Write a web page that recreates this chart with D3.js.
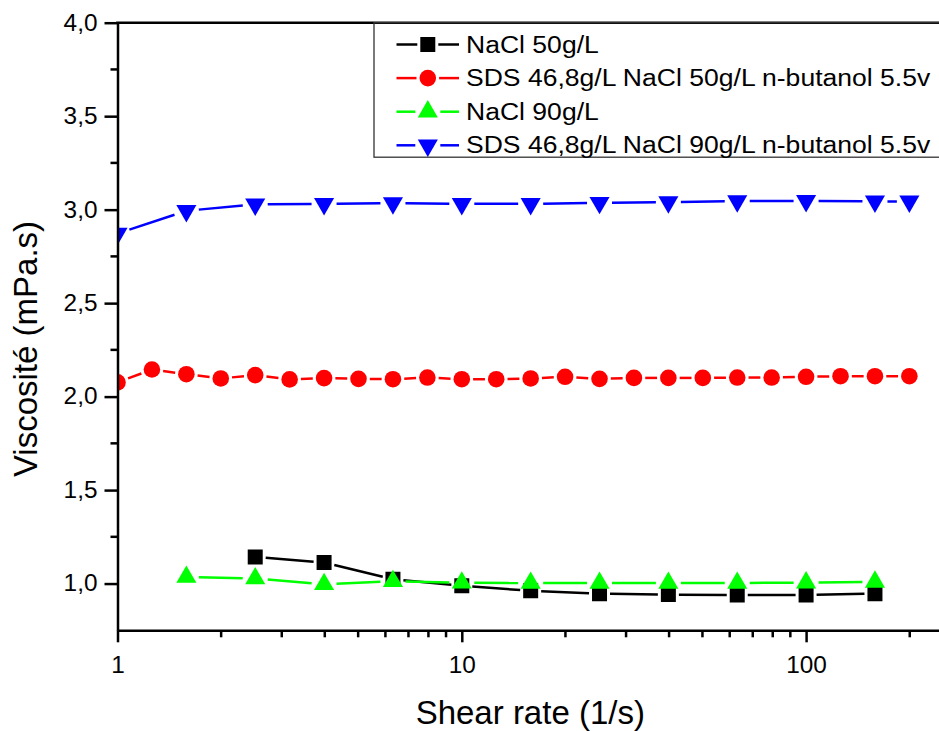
<!DOCTYPE html>
<html>
<head>
<meta charset="utf-8">
<script src="https://cdn.jsdelivr.net/npm/d3@7"></script>
<style>
  html, body { margin: 0; padding: 0; background: #fff; }
  svg { display: block; font-family: "Liberation Sans", Arial, sans-serif; }
</style>
</head>
<body>
<svg id="chart" width="939" height="731"></svg>
<script>
// ---------- data ----------
const seriesNames = [
  "NaCl 50g/L",
  "SDS 46,8g/L NaCl 50g/L n-butanol 5.5v",
  "NaCl 90g/L",
  "SDS 46,8g/L NaCl 90g/L n-butanol 5.5v"
];
const seriesColors = ["#000000", "#ff0000", "#00ff00", "#0000ff"];
const seriesSymbols = ["square", "circle", "triangleUp", "triangleDown"];

const blackX = [2.512, 3.981, 6.310, 10, 15.85, 25.12, 39.81, 63.10, 100, 158.5];
const blackY = [1.142, 1.112, 1.023, 0.988, 0.961, 0.946, 0.941, 0.939, 0.939, 0.946];

const redX = [1, 1.259, 1.585, 1.995, 2.512, 3.162, 3.981, 5.012, 6.310, 7.943, 10, 12.59,
              15.85, 19.95, 25.12, 31.62, 39.81, 50.12, 63.10, 79.43, 100, 125.9, 158.5, 199.5];
const redY = [2.076, 2.145, 2.120, 2.097, 2.115, 2.092, 2.099, 2.095, 2.093, 2.102, 2.093, 2.093,
              2.097, 2.106, 2.095, 2.100, 2.100, 2.100, 2.102, 2.102, 2.106, 2.109, 2.109, 2.109];

const greenX = [1.585, 2.512, 3.981, 6.310, 10, 15.85, 25.12, 39.81, 63.10, 100, 158.5];
const greenY = [1.035, 1.027, 0.996, 1.012, 1.004, 1.003, 1.003, 1.003, 1.003, 1.005, 1.009];

const blueX = [1, 1.585, 2.512, 3.981, 6.310, 10, 15.85, 25.12, 39.81, 63.10, 100, 158.5, 199.5];
const blueY = [2.872, 2.994, 3.028, 3.031, 3.035, 3.031, 3.031, 3.037, 3.040, 3.046, 3.047, 3.044, 3.044];

const xMajorTicks = [1, 10, 100];
const xMinorTicks = [2, 3, 4, 5, 6, 7, 8, 9, 20, 30, 40, 50, 60, 70, 80, 90, 200];
const yMajorTicks = [1.0, 1.5, 2.0, 2.5, 3.0, 3.5, 4.0];
const yMinorTicks = [1.25, 1.75, 2.25, 2.75, 3.25, 3.75];
const xDomain = [1, 250];
const yDomain = [0.75, 4.0];
const xTitle = "Shear rate (1/s)";
const yTitle = "Viscosité (mPa.s)";

const series = [
  { x: blackX, y: blackY },
  { x: redX, y: redY },
  { x: greenX, y: greenY },
  { x: blueX, y: blueY }
].map((s, i) => ({
  name: seriesNames[i], color: seriesColors[i], symbol: seriesSymbols[i],
  points: s.x.map((v, j) => ({ x: v, y: s.y[j] }))
}));

// ---------- layout ----------
const svg = d3.select("#chart");
const pLeft = 117.5, pRight = 943.1, pTop = 22.7, pBottom = 630.3;
const x = d3.scaleLog().domain(xDomain).range([pLeft, pRight]);
const y = d3.scaleLinear().domain(yDomain).range([pBottom, pTop]);
const AXW = 2.5;

// symbols
const symDefs = {
  square: { type: d3.symbolSquare, size: 225, rot: 0, half: 7.5 },
  circle: { type: d3.symbolCircle, size: 216, rot: 0, half: 8.3 },
  triangleUp: { type: d3.symbolTriangle, size: 175, rot: 0, half: 9.5 },
  triangleDown: { type: d3.symbolTriangle, size: 175, rot: 180, half: 9.5 }
};

svg.append("defs").append("clipPath").attr("id", "plotclip")
  .append("rect").attr("x", pLeft).attr("y", pTop).attr("width", pRight - pLeft).attr("height", pBottom - pTop);

const plot = svg.append("g").attr("clip-path", "url(#plotclip)");

function trimmedSegments(pts, gap) {
  const segs = [];
  for (let i = 0; i < pts.length - 1; i++) {
    const x1 = x(pts[i].x), y1 = y(pts[i].y), x2 = x(pts[i + 1].x), y2 = y(pts[i + 1].y);
    const dx = x2 - x1, dy = y2 - y1, len = Math.hypot(dx, dy);
    if (len <= 2 * gap) continue;
    const ux = dx / len, uy = dy / len;
    segs.push([x1 + ux * gap, y1 + uy * gap, x2 - ux * gap, y2 - uy * gap]);
  }
  return segs;
}

series.forEach(s => {
  const def = symDefs[s.symbol];
  const g = plot.append("g");
  g.selectAll("line").data(trimmedSegments(s.points, def.half + 3)).join("line")
    .attr("x1", d => d[0]).attr("y1", d => d[1]).attr("x2", d => d[2]).attr("y2", d => d[3])
    .attr("stroke", s.color).attr("stroke-width", 2.5);
  g.selectAll("path").data(s.points).join("path")
    .attr("d", d3.symbol().type(def.type).size(def.size))
    .attr("transform", d => `translate(${x(d.x)},${y(d.y)}) rotate(${def.rot})`)
    .attr("fill", s.color);
});

// ---------- axes ----------
const fmt = v => d3.format(".1f")(v).replace(".", ",");

const xAxis = svg.append("g").attr("transform", `translate(0,${pBottom})`)
  .call(d3.axisBottom(x).tickValues(xMajorTicks).tickFormat(d3.format("d"))
    .tickSize(12).tickSizeOuter(0).tickPadding(14));
xAxis.append("g").selectAll("line").data(xMinorTicks).join("line")
  .attr("x1", d => x(d)).attr("x2", d => x(d)).attr("y1", 0).attr("y2", 7);

const yAxis = svg.append("g").attr("transform", `translate(${pLeft},0)`)
  .call(d3.axisLeft(y).tickValues(yMajorTicks).tickFormat(fmt)
    .tickSize(13).tickSizeOuter(0).tickPadding(7));
yAxis.append("g").selectAll("line").data(yMinorTicks).join("line")
  .attr("x1", 0).attr("x2", -7).attr("y1", d => y(d)).attr("y2", d => y(d));

[xAxis, yAxis].forEach(a => {
  a.selectAll("path.domain").attr("stroke", "#000").attr("stroke-width", AXW);
  a.selectAll("line").attr("stroke", "#000").attr("stroke-width", AXW);
  a.selectAll("text").attr("fill", "#000").attr("font-size", 23)
    .attr("font-family", '"Liberation Sans", Arial, sans-serif')
    .each(function () {
      const t = d3.select(this);
      const tx = +t.attr("x") || 0, ty = +t.attr("y") || 0;
      t.attr("x", 0).attr("y", 0).attr("transform", `translate(${tx},${ty}) scale(1.06,1)`);
    });
});

// top frame line
svg.append("line").attr("x1", pLeft - AXW / 2).attr("x2", 949)
  .attr("y1", pTop).attr("y2", pTop).attr("stroke", "#000").attr("stroke-width", AXW);

// axis titles
svg.append("text").attr("x", (pLeft + pRight) / 2).attr("y", 724)
  .attr("text-anchor", "middle").attr("font-size", 33).attr("fill", "#000").text(xTitle);
svg.append("text").attr("transform", `translate(36.5,${349}) rotate(-90)`)
  .attr("text-anchor", "middle").attr("font-size", 33).attr("fill", "#000").text(yTitle);

// ---------- legend ----------
const legend = svg.append("g");
legend.append("rect").attr("x", 374).attr("y", pTop).attr("width", 700).attr("height", 134.5)
  .attr("fill", "none").attr("stroke", "#333").attr("stroke-width", 1.3);
const lgMarkX = 427.8, lgLineL = 396.5, lgLineR = 459, lgTextX = 466;
series.forEach((s, i) => {
  const def = symDefs[s.symbol];
  const cy = 44.5 + i * 33.6;
  const row = legend.append("g").attr("transform", `translate(0,${cy})`);
  row.append("line").attr("x1", lgLineL).attr("x2", lgMarkX - def.half - 3).attr("y1", 0).attr("y2", 0)
    .attr("stroke", s.color).attr("stroke-width", 2.5);
  row.append("line").attr("x1", lgMarkX + def.half + 3).attr("x2", lgLineR).attr("y1", 0).attr("y2", 0)
    .attr("stroke", s.color).attr("stroke-width", 2.5);
  row.append("path").attr("d", d3.symbol().type(def.type).size(def.size)())
    .attr("transform", `translate(${lgMarkX},0) rotate(${def.rot})`).attr("fill", s.color);
  row.append("text").attr("transform", `translate(${lgTextX},8) scale(1.12,1)`)
    .attr("font-size", 23.7).attr("fill", "#000").text(s.name);
});
</script>
</body>
</html>
